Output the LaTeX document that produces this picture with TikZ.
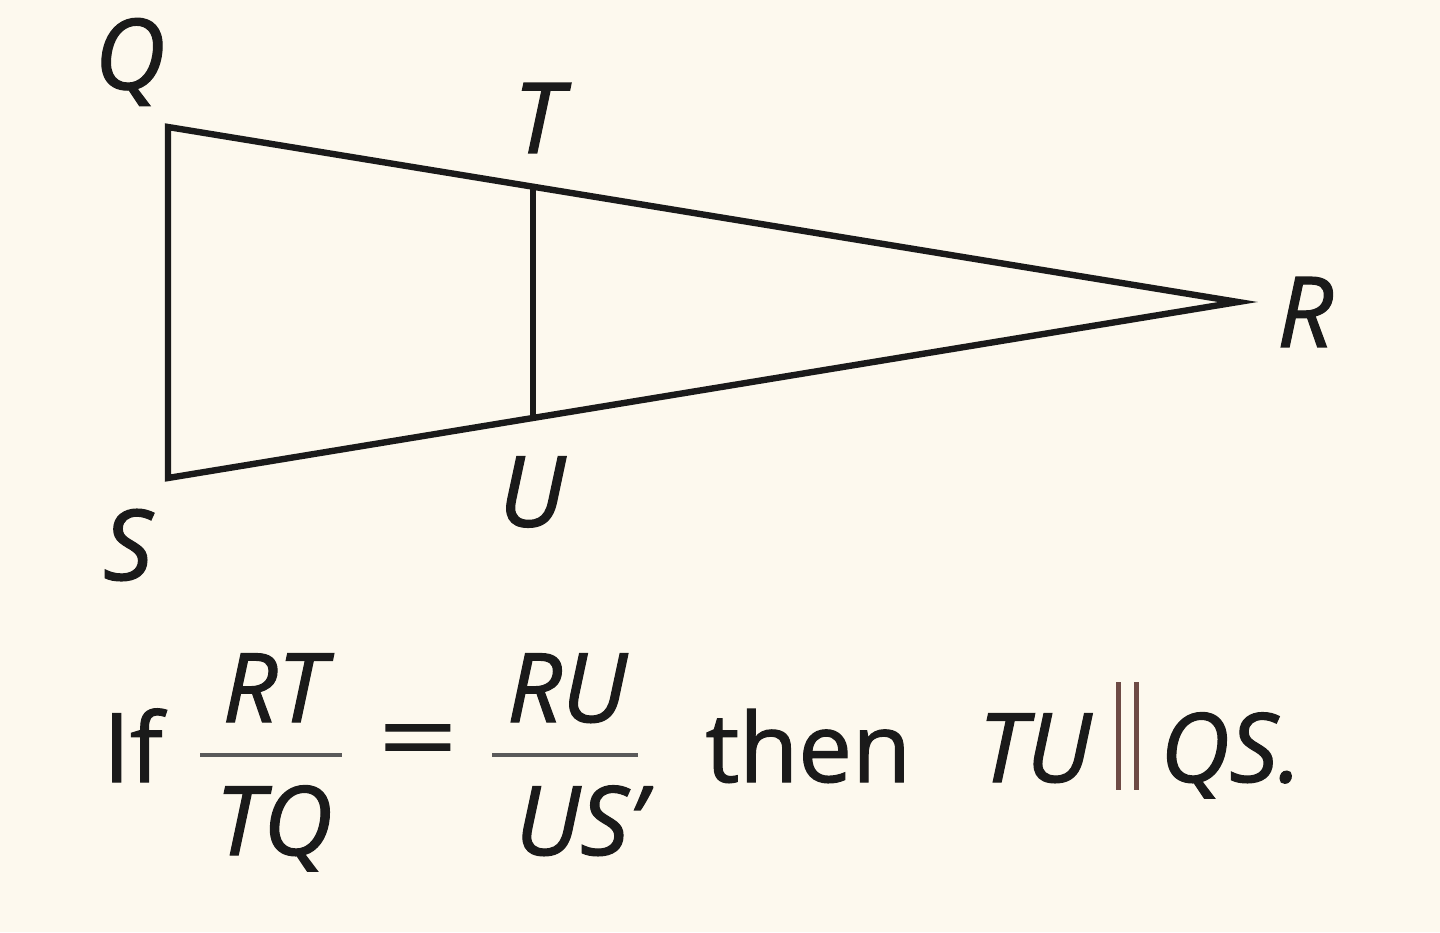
\documentclass[tikz,border=0pt]{standalone}
\usepackage{fontspec}
\setmainfont{Open Sans}[FakeBold=1.2]
\definecolor{bg}{HTML}{FDF9EE}
\definecolor{ink}{HTML}{1A1A1A}
\definecolor{barc}{HTML}{5A5A5A}
\definecolor{parc}{HTML}{6E4B45}
\begin{document}
\begin{tikzpicture}[x=0.5pt,y=-0.5pt,
  seg/.style={line width=3.2pt,draw=ink,line join=miter},
  lbl/.style={font=\fontsize{49}{58}\selectfont\itshape,text=ink,inner sep=0pt},
  txt/.style={font=\fontsize{48}{56}\selectfont,text=ink,inner sep=0pt},
  itx/.style={txt,font=\fontsize{48}{56}\selectfont\itshape},
  fbar/.style={line width=2pt,draw=barc}]
\fill[bg] (0,0) rectangle (1440,932);
\useasboundingbox (0,0) rectangle (1440,932);
\coordinate (Q) at (168,127);
\coordinate (S) at (168,478);
\coordinate (R) at (1238,302);
\coordinate (T) at (533,187);
\coordinate (U) at (533,417);
\draw[seg] (S) -- (Q) -- (R) -- cycle;
\draw[seg] (T) -- (U);
\node[lbl] (lQ) at (130,62) {Q};
\node[lbl] (lT) at (538,118) {T};
\node[lbl] (lR) at (1305,312) {R};
\node[lbl] (lU) at (532,492) {U};
\node[lbl] (lS) at (128,545) {S};
% formula
\node[txt,anchor=base west] (if) at (103,782) {If};
\node[itx,anchor=base] (n1) at (274,722) {RT};
\node[itx,anchor=base] (d1) at (274,855) {TQ};
\coordinate (b1l) at (200,755); \coordinate (b1r) at (342,755);
\draw[fbar] (b1l) -- (b1r);
\node[txt,xscale=1.45] (eq) at (418,748) {=};
\node[itx,anchor=base] (n2) at (567,722) {RU};
\node[itx,anchor=base] (d2) at (580,855) {US’};
\coordinate (b2l) at (492,755); \coordinate (b2r) at (638,755);
\draw[fbar] (b2l) -- (b2r);
\node[txt,anchor=base west] (then) at (705,782) {then};
\node[itx,anchor=base west] (tu) at (978,782) {TU};
\coordinate (p1t) at (1118,682); \coordinate (p1b) at (1118,790);
\coordinate (p2t) at (1136,682); \coordinate (p2b) at (1136,790);
\draw[line width=2.5pt,draw=parc] (p1t) -- (p1b) (p2t) -- (p2b);
\node[itx,anchor=base west] (qs) at (1160,782) {QS.};
\end{tikzpicture}
\end{document}
